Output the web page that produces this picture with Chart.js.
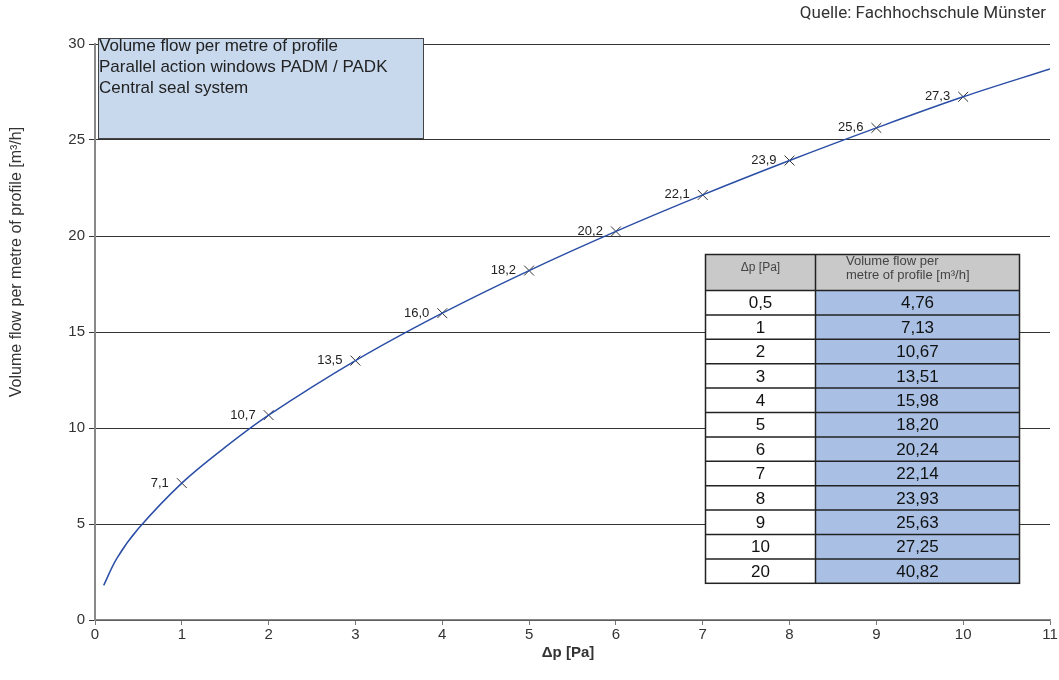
<!DOCTYPE html>
<html>
<head>
<meta charset="utf-8">
<script src="https://cdn.jsdelivr.net/npm/chart.js@4"></script>
<style>
  html, body { margin: 0; padding: 0; background: #fff; }
  #wrap { width: 1059px; height: 680px; position: relative; }
</style>
</head>
<body>
<div id="wrap"><canvas id="flowChart"></canvas></div>
<script>
// measured values (table in the reference)
const tablePressure = ['0,5', '1', '2', '3', '4', '5', '6', '7', '8', '9', '10', '20'];
const tableFlow = ['4,76', '7,13', '10,67', '13,51', '15,98', '18,20', '20,24', '22,14', '23,93', '25,63', '27,25', '40,82'];

// marked points on the curve
const markerX = [1, 2, 3, 4, 5, 6, 7, 8, 9, 10];
const markerY = [7.13, 10.67, 13.51, 15.98, 18.20, 20.24, 22.14, 23.93, 25.63, 27.25];

// curve
const curveX = [0.1, 0.25, 0.5, 1, 1.5, 2, 3, 4, 5, 6, 7, 8, 9, 10, 11];
const curveY = [1.8, 3.2, 4.76, 7.13, 9.0, 10.67, 13.51, 15.98, 18.2, 20.24, 22.14, 23.93, 25.63, 27.25, 28.7];

const boxLines = ['Volume flow per metre of profile', 'Parallel action windows PADM / PADK', 'Central seal system'];
const sourceText = 'Quelle: Fachhochschule Münster';
const yTitle = 'Volume flow per metre of profile [m\u00b3/h]';
const xTitle = '\u0394p [Pa]';

const FONT = '"Liberation Sans", Arial, sans-serif';

// labels next to the crosses, table, text box, axis titles and source line
const extrasPlugin = {
    id: 'extras',
    afterDatasetsDraw(chart) {
        const ctx = chart.ctx;
        const xs = chart.scales.x, ys = chart.scales.y;
        ctx.save();

        // point labels
        ctx.font = '13px ' + FONT;
        ctx.fillStyle = '#222';
        ctx.textAlign = 'right';
        ctx.textBaseline = 'middle';
        markerX.forEach((x, i) => {
            const px = xs.getPixelForValue(x), py = ys.getPixelForValue(markerY[i]);
            ctx.fillText(markerY[i].toFixed(1).replace('.', ','), px - 13, py);
        });

        // text box
        ctx.fillStyle = '#c8d9ee';
        ctx.fillRect(98.5, 38.5, 325, 100);
        ctx.strokeStyle = '#444';
        ctx.lineWidth = 1;
        ctx.strokeRect(98.5, 38.5, 325, 100);
        ctx.fillStyle = '#222';
        ctx.font = '17px ' + FONT;
        ctx.textAlign = 'left';
        ctx.textBaseline = 'middle';
        boxLines.forEach((t, i) => ctx.fillText(t, 99, 46 + i * 21));

        // table
        const tx = 705.5, tmid = 815.5, tr = 1019.5, ty = 254.5, hh = 36, rh = 24.4;
        ctx.fillStyle = '#c9c9c9';
        ctx.fillRect(tx, ty, tr - tx, hh);
        tablePressure.forEach((p, i) => {
            const y = ty + hh + i * rh;
            ctx.fillStyle = '#fff';
            ctx.fillRect(tx, y, tmid - tx, rh);
            ctx.fillStyle = '#a9c0e4';
            ctx.fillRect(tmid, y, tr - tmid, rh);
        });
        ctx.strokeStyle = '#222';
        ctx.lineWidth = 1.5;
        ctx.strokeRect(tx, ty, tr - tx, hh + tablePressure.length * rh);
        ctx.beginPath();
        ctx.moveTo(tmid, ty);
        ctx.lineTo(tmid, ty + hh + tablePressure.length * rh);
        for (let i = 0; i < tablePressure.length; i++) {
            const y = ty + hh + i * rh;
            ctx.moveTo(tx, y);
            ctx.lineTo(tr, y);
        }
        ctx.stroke();

        ctx.fillStyle = '#444';
        ctx.font = '12px ' + FONT;
        ctx.textAlign = 'center';
        ctx.fillText('\u0394p [Pa]', (tx + tmid) / 2, ty + 13);
        ctx.textAlign = 'left';
        ctx.font = '13px ' + FONT;
        ctx.fillText('Volume flow per', 846, ty + 7);
        ctx.fillText('metre of profile [m\u00b3/h]', 846, ty + 21);

        ctx.fillStyle = '#111';
        ctx.font = '17px ' + FONT;
        ctx.textAlign = 'center';
        tablePressure.forEach((p, i) => {
            const y = ty + hh + i * rh + rh / 2 + 1;
            ctx.fillText(p, (tx + tmid) / 2, y);
            ctx.fillText(tableFlow[i], (tmid + tr) / 2, y);
        });

        // y axis title
        ctx.save();
        ctx.translate(17, 262);
        ctx.rotate(-Math.PI / 2);
        ctx.font = '16px ' + FONT;
        ctx.fillStyle = '#333';
        ctx.textAlign = 'center';
        ctx.textBaseline = 'middle';
        ctx.fillText(yTitle, 0, 0);
        ctx.restore();

        // x axis title
        ctx.font = 'bold 15px ' + FONT;
        ctx.fillStyle = '#333';
        ctx.textAlign = 'center';
        ctx.textBaseline = 'middle';
        ctx.fillText(xTitle, 568, 653);

        // source
        ctx.font = '17px Roboto, ' + FONT;
        ctx.fillStyle = '#333';
        ctx.textAlign = 'right';
        ctx.fillText(sourceText, 1046, 14);

        ctx.restore();
    }
};

const ctx = document.getElementById('flowChart').getContext('2d');
const flowChart = new Chart(ctx, {
    type: 'scatter',
    data: {
        datasets: [{
            label: 'curve',
            data: curveX.map((x, i) => ({ x: x, y: curveY[i] })),
            showLine: true,
            borderColor: '#2a4ea6',
            borderWidth: 1.5,
            pointRadius: 0,
            tension: 0.35,
            fill: false
        }, {
            label: 'points',
            data: markerX.map((x, i) => ({ x: x, y: markerY[i] })),
            pointStyle: 'crossRot',
            pointRadius: 7,
            borderColor: '#333',
            borderWidth: 1,
            showLine: false
        }]
    },
    options: {
        responsive: true,
        maintainAspectRatio: false,
        animation: false,
        layout: { padding: { top: 44, right: 9, left: 0, bottom: 0 } },
        plugins: {
            legend: { display: false },
            tooltip: { enabled: false }
        },
        scales: {
            x: {
                type: 'linear',
                min: 0,
                max: 11,
                ticks: { stepSize: 1, color: '#333', font: { family: FONT, size: 15 }, padding: 1 },
                grid: { display: true, drawOnChartArea: false, drawTicks: true, tickLength: 5, color: '#777' },
                border: { color: '#888', width: 1.5 },
                afterFit: s => { s.height = 60; }
            },
            y: {
                min: 0,
                max: 30,
                ticks: { stepSize: 5, color: '#333', font: { family: FONT, size: 15 }, padding: 4 },
                grid: { color: '#333', lineWidth: 1, tickLength: 6 },
                border: { color: '#888', width: 2 },
                afterFit: s => { s.width = 95; }
            }
        }
    },
    plugins: [extrasPlugin]
});
</script>
</body>
</html>
